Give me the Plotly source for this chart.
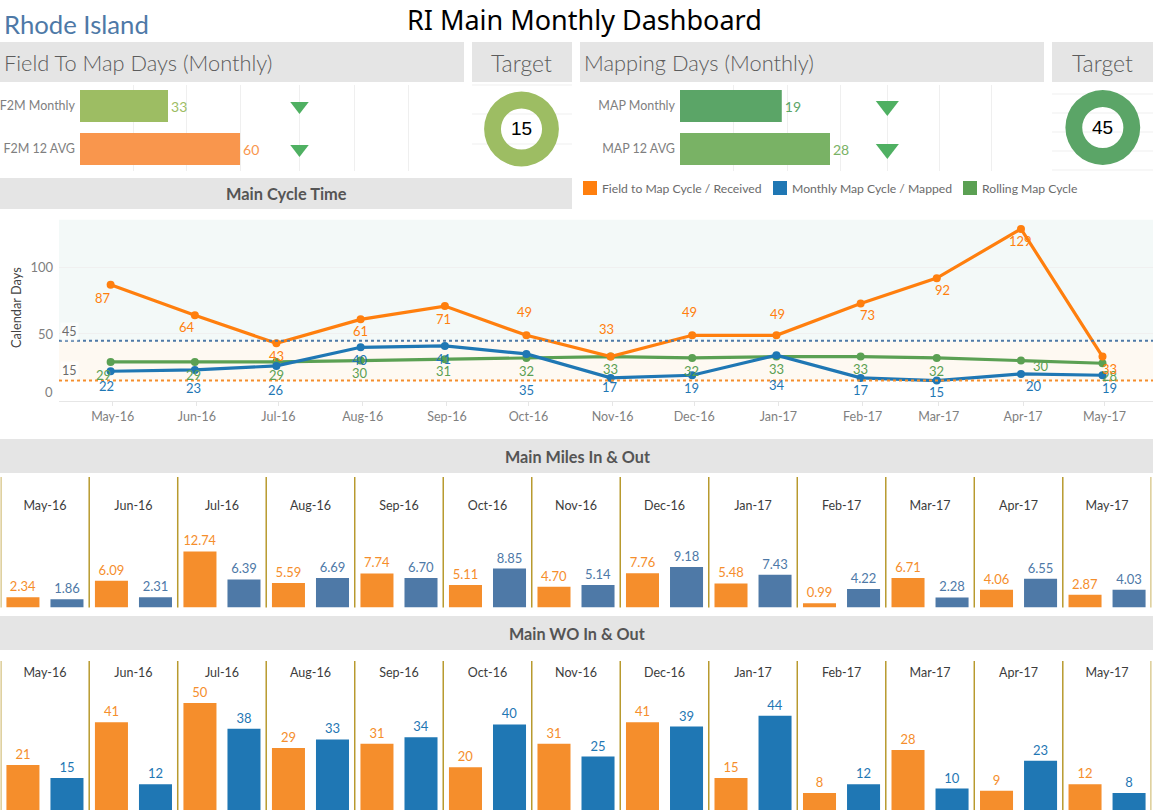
import plotly.graph_objects as go

# ---------- data ----------
months = ["May-16","Jun-16","Jul-16","Aug-16","Sep-16","Oct-16","Nov-16","Dec-16","Jan-17","Feb-17","Mar-17","Apr-17","May-17"]
dates = ["2016-05-01","2016-06-01","2016-07-01","2016-08-01","2016-09-01","2016-10-01","2016-11-01","2016-12-01",
         "2017-01-01","2017-02-01","2017-03-01","2017-04-01","2017-05-01"]
field_to_map = [87,64,43,61,71,49,33,49,49,73,92,129,33]
monthly_map = [22,23,26,40,41,35,17,19,34,17,15,20,19]
rolling_map = [29,29,29,30,31,32,33,32,33,33,32,30,28]
miles_in = [2.34,6.09,12.74,5.59,7.74,5.11,4.70,7.76,5.48,0.99,6.71,4.06,2.87]
miles_out = [1.86,2.31,6.39,6.69,6.70,8.85,5.14,9.18,7.43,4.22,2.28,6.55,4.03]
wo_in = [21,41,50,29,31,20,31,41,15,8,28,9,12]
wo_out = [15,12,38,33,34,40,25,39,44,12,10,23,8]
f2m_cats = ["F2M 12 AVG","F2M Monthly"]
f2m_vals = [60,33]
f2m_marks = [82.3,82.3]
map_cats = ["MAP 12 AVG","MAP Monthly"]
map_vals = [28,19]
map_marks = [38.7,38.7]
f2m_target = 15
map_target = 45

# label nudges for the line chart, pixels (dx, dy downwards)
orange_off = [(-8,13),(-8,12),(0,13),(0,12),(-1,13),(-2,-23),(-4,-28),(-3,-23),(1,-21),(7,12),(6,12),(0,12),(7,12)]
blue_off = [(-4,15),(-1,18),(-1,24),(-1,13),(-1,13),(0,36),(-1,9),(-1,13),(1,30),(0,12),(0,11),(13,12),(7,13)]
green_off = [(-7,13),(-1,13),(0,13),(-1,12),(-1,12),(0,13),(0,12),(-1,13),(0,12),(0,12),(0,13),(20,5),(7,13)]

# ---------- style ----------
W, H = 1153, 811
FONT = "Lato"
GREY = "#e5e5e5"
TXT = "#6b6b6b"
ORANGE, BLUE, GREEN = "#ff7f0e", "#1f77b4", "#5ba053"
BAR_O, BAR_S = "#f58e2c", "#4e79a7"
GOLD = "#b89a2e"
GRID = "#efefef"

def xd(a, b): return [a / W, b / W]
def yd(t, b): return [1 - b / H, 1 - t / H]
def px(x): return x / W
def py(y): return 1 - y / H

fig = go.Figure()
shapes, ann = [], []

def band(x0, y0, x1, y1, color=GREY):
    shapes.append(dict(type="rect", xref="paper", yref="paper", x0=px(x0), x1=px(x1), y0=py(y1), y1=py(y0),
                       fillcolor=color, line_width=0, layer="below"))

def label(x, y, text, size, color=TXT, anchor="center", family=FONT, **kw):
    nudge = {"left": -3, "right": 3, "center": 0}[anchor]
    ann.append(dict(xref="paper", yref="paper", x=px(x + nudge), y=py(y), text=text, showarrow=False, xanchor=anchor,
                    yanchor="middle", font=dict(family=family, size=size, color=color, **kw)))

# header bands
for b in [(0,42,464,82),(472,42,572,82),(580,42,1044,82),(1052,42,1153,82),(0,178,572,209),(0,439,1153,473),(0,616,1153,650)]:
    band(*b)
label(5, 23.5, "Rhode Island", 25.7, "#4e79a7", "left")
label(584, 19, "RI Main Monthly Dashboard", 27, "#000000", family="Noto Sans")
label(5, 63, "Field To Map Days (Monthly)", 21.8, "#5c5c5c", "left", weight=300)
label(521, 63, "Target", 23, "#5c5c5c", weight=300)
label(585, 63, "Mapping Days (Monthly)", 21.8, "#5c5c5c", "left", weight=300)
label(1102.5, 63, "Target", 23, "#5c5c5c", weight=300)
label(286, 194, "Main Cycle Time", 16.4, "#555555", weight=700)
label(577, 456, "Main Miles In & Out", 16.2, "#555555", weight=700)
label(577, 633, "Main WO In & Out", 16.2, "#555555", weight=700)

# legend
for x, c, t in [(583, ORANGE, "Field to Map Cycle / Received"), (773, BLUE, "Monthly Map Cycle / Mapped"), (963, GREEN, "Rolling Map Cycle")]:
    band(x, 181, x + 14, 195, c)
    label(x + 19.5, 188.5, t, 12.2, TXT, "left")

# target panel guide lines
for x0, x1, ys in [(472,572,(85,114,144)), (1052,1153,(94,113,132,151,170))]:
    for y in ys:
        shapes.append(dict(type="line", xref="paper", yref="paper", x0=px(x0), x1=px(x1), y0=py(y), y1=py(y),
                           line=dict(color=GRID, width=1), layer="below"))

# horizontal KPI bars
def kpi(ax, cats, vals, marks, colors, size, dom, rng, grid, ydom):
    fig.add_trace(go.Bar(y=cats, x=vals, orientation="h", width=32/43, marker=dict(color=colors, line_width=0),
                         text=[str(v) for v in vals], textposition="outside", cliponaxis=False,
                         textfont=dict(family=FONT, size=14, color=colors), xaxis=f"x{ax}", yaxis=f"y{ax}", showlegend=False))
    fig.add_trace(go.Scatter(y=cats, x=marks, mode="markers", marker=dict(symbol="triangle-down", size=size, color="#4fb062"),
                             xaxis=f"x{ax}", yaxis=f"y{ax}", showlegend=False))
    layout_axes[f"xaxis{ax}"] = dict(domain=dom, range=rng, anchor=f"y{ax}", tickmode="array", tickvals=grid, showticklabels=False,
                                     showgrid=True, gridcolor=GRID, zeroline=False, fixedrange=True)
    layout_axes[f"yaxis{ax}"] = dict(domain=ydom, range=[-0.5,1.5], anchor=f"x{ax}", type="category", categoryorder="array",
                                     categoryarray=cats, showgrid=False, zeroline=False, ticks="", ticklabelstandoff=4,
                                     tickfont=dict(family=FONT, size=12.5, color="#7f7f7f"))

layout_axes = {}
kpi(1, f2m_cats, f2m_vals, f2m_marks, ["#f9964d","#9dbd63"], 16, xd(80,463), [0,383/2.667], [0,20,40,60,82.3,103,123], yd(84.5,170.5))
kpi(2, map_cats, map_vals, map_marks, ["#79b265","#5ba567"], 20, xd(680,1044), [0,364/5.357], [0,10,20,30,38.7,48.4,58.1], yd(84.5,170.5))

# donuts
for val, col, cx, cy in [(f2m_target,"#9dbd63",521.5,129), (map_target,"#5ba567",1102.8,127.5)]:
    r = 37.4
    fig.add_trace(go.Pie(values=[val], marker=dict(colors=[col], line_width=0), hole=0.55, sort=False, textinfo="none",
                         domain=dict(x=xd(cx-r,cx+r), y=yd(cy-r,cy+r)), showlegend=False))
    label(cx, cy, str(val), 19, "#000000", family="Liberation Sans")

# cycle-time lines
tick_dates = [d + " 18:00" for d in dates]
for vals, col, off in [(rolling_map,GREEN,green_off),(monthly_map,BLUE,blue_off),(field_to_map,ORANGE,orange_off)]:
    fig.add_trace(go.Scatter(x=dates, y=vals, mode="lines+markers", line=dict(color=col, width=3.2),
                             marker=dict(size=8, color=col), xaxis="x3", yaxis="y3", showlegend=False))
    for d, v, (dx, dy) in zip(dates, vals, off):
        ann.append(dict(xref="x3", yref="y3", x=d, y=v, text=str(v), showarrow=False, xshift=dx, yshift=-dy,
                        font=dict(family=FONT, size=13, color=col)))
layout_axes["xaxis3"] = dict(domain=xd(59,1153), type="date", range=["2016-04-12 00:00","2017-05-19 14:00"], anchor="y3",
                             tickmode="array", tickvals=tick_dates, ticktext=months, ticks="outside", ticklen=4, tickcolor="#e6e6e6",
                             showgrid=False, showline=True, linecolor="#e6e6e6", zeroline=False,
                             tickfont=dict(family=FONT, size=12.5, color="#7f7f7f"))
layout_axes["yaxis3"] = dict(domain=yd(219.6,400.5), range=[0,136], anchor="x3", tickmode="array", tickvals=[50,100],
                             showgrid=True, gridcolor="#f0f0f0", zeroline=False, ticks="", ticklabelstandoff=5,
                             tickfont=dict(family=FONT, size=13, color="#7f7f7f"))
for y0, y1, c in [(45,136,"#f3f9f8"),(15,45,"#fef9f2")]:
    shapes.append(dict(type="rect", xref="x3 domain", yref="y3", x0=0, x1=1, y0=y0, y1=y1, fillcolor=c, line_width=0, layer="below"))
for y, c, t, sh in [(45,BAR_S,"45",9),(15,BAR_O,"15",10)]:
    shapes.append(dict(type="line", xref="x3 domain", yref="y3", x0=0, x1=1, y0=y, y1=y, line=dict(color=c, width=2, dash="dot")))
    ann.append(dict(xref="paper", yref="y3", x=px(69), y=y, yshift=sh, text=t, showarrow=False, xanchor="center",
                    font=dict(family=FONT, size=12.5, color="#6b6b6b"), bgcolor="rgba(255,255,255,0.6)"))
label(52, 391.5, "0", 13, "#7f7f7f", "right")
ann.append(dict(xref="paper", yref="paper", x=px(16), y=py(308), text="Calendar Days", textangle=-90, showarrow=False,
                xanchor="center", yanchor="middle", font=dict(family=FONT, size=12.8, color="#444444")))

# in / out bars
def inout(ax, a, b, fmt, col_b, ydom, ymax, lab_y):
    for vals, c in [(a, BAR_O), (b, col_b)]:
        fig.add_trace(go.Bar(x=months, y=vals, marker=dict(color=c, line_width=0), text=[fmt.format(v) for v in vals],
                             textposition="outside", cliponaxis=False, textfont=dict(family=FONT, size=13, color=c),
                             xaxis=f"x{ax}", yaxis=f"y{ax}", showlegend=False))
    layout_axes[f"xaxis{ax}"] = dict(domain=xd(0.7,1151.3), range=[-0.5,12.5], type="category", anchor="free", side="top",
                                     position=py(lab_y), ticks="", showgrid=False, showline=False, zeroline=False,
                                     tickfont=dict(family=FONT, size=12.5, color="#3c3c3c"))
    layout_axes[f"yaxis{ax}"] = dict(domain=ydom, range=[0,ymax], anchor=f"x{ax}", visible=False)
    for i in range(14):
        shapes.append(dict(type="line", xref=f"x{ax}", yref=f"y{ax} domain", x0=i-0.5, x1=i-0.5, y0=0, y1=1,
                           line=dict(color=GOLD, width=1.5)))

inout(4, miles_in, miles_out, "{:.2f}", BAR_S, yd(477,607.5), 130.5/4.4, 512)
inout(5, wo_in, wo_out, "{:d}", BLUE, yd(661,810), 149/2.14, 679)

fig.update_layout(width=W, height=H, margin=dict(l=0,r=0,t=0,b=0), paper_bgcolor="white", plot_bgcolor="rgba(0,0,0,0)",
                  barmode="group", bargap=0.005, bargroupgap=0.25, shapes=shapes, annotations=ann, showlegend=False,
                  font=dict(family=FONT), **layout_axes)
fig.write_html("out.html", config=dict(displayModeBar=False),
               post_script="document.body.style.margin='0';document.body.style.overflow='hidden';")
